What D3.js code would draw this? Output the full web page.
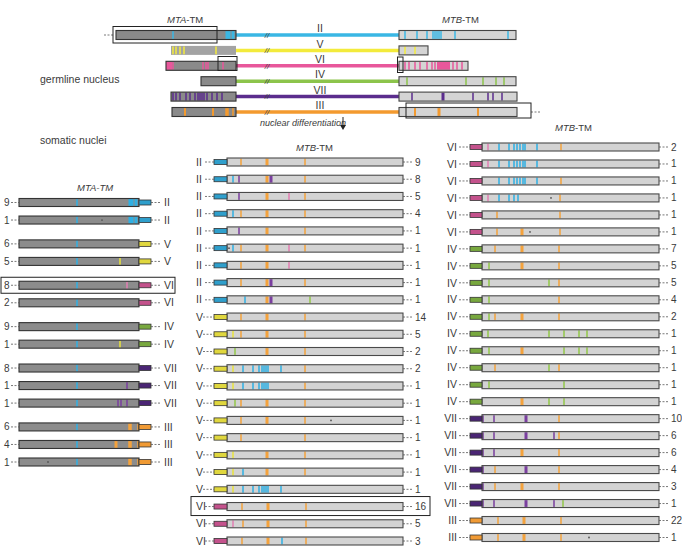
<!DOCTYPE html>
<html><head><meta charset="utf-8">
<script src="https://cdn.jsdelivr.net/npm/d3@7"></script>
<style>body{margin:0;background:#fff} text{font-family:"Liberation Sans",Arial,sans-serif;fill:#3a3a3a}</style>
</head><body><svg id="c" width="682" height="548"></svg>
<script>
// ---------------- DATA ----------------
const chromosomes = ["II","V","VI","IV","VII","III"];
// germline: MTA start (gene units, MTA ends at 120) and MTB end (MTB starts at 0)
const germMTAStart = [0,55,50,85,55,56];
const germMTBEnd   = [117,29,69,117,118,118];
const germMTAMarks = [
  "57 112:5 117:3",
  "57 60 64 68 100",
  "53:6 57 87 90 92 107",
  "",
  "57 60 64 70 74 79 82 84 86 88 91 96 101 106",
  "69:2 97:2 111:3.5 117"
];
const germMTBMarks = [
  "6 18 28 34 36 38 40 42 56 109",
  "6 16",
  "6 10 16 21 28 33 36 44.5:13 54 58 63",
  "8 67 84 97 105",
  "13 44:3 74 89 94 103",
  "16:2 40:3 79:2"
];

// somatic MTA-TM column
const leftLabels = ["II","II","V","V","VI","VI","IV","IV","VII","VII","VII","III","III","III"];
const leftCounts = [9,1,6,5,8,2,9,1,8,1,1,6,4,1];
const leftMarks = [
  "c58 c112:5 c117:3", "c58 c112:5 c117:3 *83",
  "c58", "c58 y101",
  "c58 p108", "c58",
  "c58", "c58 y101",
  "c58", "c58 u108", "c58 u99 u102 u108",
  "c58 o111:3.5 o119", "c58 o97:3 o111:3.5 o119", "c58 o111:3.5 o119 *29"
];

// somatic MTB-TM middle column
const midLabels = ["II","II","II","II","II","II","II","II","II",
  "V","V","V","V","V","V","V","V","V","V","V","VI","VI","VI"];
const midCounts = [9,8,5,4,1,1,1,1,1, 14,5,2,2,1,1,1,1,1,1,1, 16,5,3];
const midMarks = [
  "o14 o40:3 o78",
  "c6 u12 o40:3 u44:3 o78",
  "u12 o40:3 p62 o78",
  "c6 o14 o40:3 o78",
  "u12 o40:3 o78",
  "c6 o14 o40:3 p62 o78 *2",
  "o14 o40:3 p62",
  "o14 o40:3 u44:3 o78",
  "c18 o40:3 u44:3 g83",
  "o14 o40:3 o78",
  "y6 o14 o40:3 o78",
  "g8 o40:3 o78",
  "y6 c16 c26 c32 c35 c37 c39 c41 c54 o78",
  "y6 c16 c26 c32 c35 c37 c39 c41 o78",
  "g8 o14 o40:3 o78",
  "o14 o40:3 o78 *104",
  "o14 o78",
  "y6 o40:3 o78",
  "y6 c16 o40:3 o78",
  "y6 c16 c26 c32 c35 c37 c39 c41 c54",
  "o15 o41:3 o79",
  "p6 o16 o41:3 o79",
  "o15 o41:3 c55 o79"
];

// somatic MTB-TM right column
const rightLabels = ["VI","VI","VI","VI","VI","VI",
  "IV","IV","IV","IV","IV","IV","IV","IV","IV","IV",
  "VII","VII","VII","VII","VII","VII","III","III"];
const rightCounts = [2,1,1,1,1,1, 7,5,5,4,2,1,1,1,1,1, 10,6,6,4,3,1, 22,1];
const rightMarks = [
  "p6 c17 c27 c32 c35 c38 c41 c43 c55 o79",
  "p6 c17 c27 c32 c35 c38 c41 c43 c55",
  "c17 c27 c32 c35 c38 c41 c43 c55 o79",
  "p6 c17 c27 c32 c36 o78 *69",
  "o15 o78",
  "o15 o40:3 o78 *48",
  "o13 o40:3 o77",
  "g7 o40:3 o77",
  "g7 g67 o77",
  "g7 o77",
  "g7 o13 o40:3 o77",
  "g6 g67 g82 g97 g105",
  "g7 o40:3 g82 g97 g105",
  "o13 g67 o77",
  "g7 g82",
  "o40:3 g67 g82",
  "u1 u12 u44:3 o77",
  "u1 u12 u44:3 u72 o77",
  "u1 u12 o40:3 o77",
  "u1 o13 u44:3 o77",
  "u1 o13 o40:3 o77",
  "u1 u12 u44:3 u72 g81",
  "o16 o42:3 o79",
  "o16 o42:3 o79 *107"
];

// ---------------- STYLE ----------------
const markColor = {c:"#2fb0e4", y:"#e9e33c", p:"#e27fb2", g:"#92c84a", u:"#7a3f9f", o:"#f4a23c"};
const lineColor = {II:"#3ab7e4", V:"#f3eb3c", VI:"#e8579b", IV:"#8cc44b", VII:"#5b2d8d", III:"#f39a2f"};
const stubColor = {II:"#2f9fcc", V:"#e0d73e", VI:"#c4528c", IV:"#78a83e", VII:"#4a2574", III:"#f09a34"};

const svg = d3.select("#c");

function parse(s) {
  if (!s) return [];
  return s.trim().split(/\s+/).map(t => {
    if (t[0] === "*") return {dot: +t.slice(1)};
    const k = /[a-z]/.test(t[0]) ? t[0] : null;
    const body = k ? t.slice(1) : t;
    const [p, w] = body.split(":");
    return {c: k, pos: +p, w: w ? +w : 1.5};
  });
}
function dashes(g, x1, x2, y) {
  g.append("line").attr("x1", x1).attr("x2", x2).attr("y1", y).attr("y2", y)
    .attr("stroke", "#555").attr("stroke-width", 0.8).attr("stroke-dasharray", "2,1.5");
}
function box(x, y, w, h) {
  svg.append("rect").attr("x", x).attr("y", y).attr("width", w).attr("height", h)
    .attr("fill", "none").attr("stroke", "#222").attr("stroke-width", 1);
}
function titleText(x, y, gene, italicAll, size) {
  const t = svg.append("text").attr("x", x).attr("y", y).attr("font-size", size || 9.5);
  t.append("tspan").attr("font-style", "italic").text(gene);
  t.append("tspan").attr("font-style", italicAll ? "italic" : "normal").text("-TM");
}
function drawBar(g, x, cy, h, marks, fill, stroke, colorFn, barStroke) {
  const [x0, x1] = x.range();
  g.append("rect").attr("x", x0).attr("y", cy - h/2).attr("width", x1 - x0).attr("height", h).attr("fill", fill);
  parse(marks).forEach(m => {
    if (m.dot != null) {
      g.append("circle").attr("cx", x(m.dot)).attr("cy", cy).attr("r", 0.9).attr("fill", "#555");
    } else {
      g.append("rect").attr("x", x(m.pos) - m.w/2).attr("y", cy - h/2 + 0.6)
        .attr("width", m.w).attr("height", h - 1.2).attr("fill", colorFn(m));
    }
  });
  if (stroke) g.append("rect").attr("x", x0).attr("y", cy - h/2).attr("width", x1 - x0).attr("height", h)
    .attr("fill", "none").attr("stroke", stroke).attr("stroke-width", barStroke || 1.1);
}

// ---------------- GERMLINE ----------------
const gG = svg.append("g");
const yG = d3.scaleLinear().domain([0, 5]).range([35, 112]);
const xGA = d3.scaleLinear().domain([0, 120]).range([116, 236]);
const xGB = d3.scaleLinear().domain([0, 120]).range([399, 519]);
titleText(167, 23, "MTA", false, 9.5);
titleText(442, 23, "MTB", false, 9.5);

chromosomes.forEach((ch, i) => {
  const cy = yG(i);
  gG.append("line").attr("x1", xGA(120)).attr("x2", xGB(0)).attr("y1", cy).attr("y2", cy)
    .attr("stroke", lineColor[ch]).attr("stroke-width", 3.5);
  gG.append("text").attr("x", 267).attr("y", cy).attr("dy", "0.35em").attr("text-anchor", "middle")
    .attr("font-size", 8).attr("font-style", "italic").text("//");
  gG.append("text").attr("x", 320).attr("y", cy - 2.8).attr("text-anchor", "middle")
    .attr("font-size", 10.5).text(ch);
  const xa = d3.scaleLinear().domain([germMTAStart[i], 120]).range([xGA(germMTAStart[i]), xGA(120)]);
  drawBar(gG, xa, cy, 9, germMTAMarks[i], ch === "V" ? "#a3a3a3" : "#8a8a8a", ch === "V" ? null : "#333",
    () => lineColor[ch]);
  const xb = d3.scaleLinear().domain([0, germMTBEnd[i]]).range([xGB(0), xGB(germMTBEnd[i])]);
  drawBar(gG, xb, cy, 9, germMTBMarks[i], "#d4d4d4", "#444", () => lineColor[ch]);
});
dashes(gG, 104, 113, yG(0));
box(113, 26.5, 104, 16.5);
box(218, 56.5, 19, 14);
box(397.5, 57, 5.5, 15.5);
box(406, 103, 125, 15);
dashes(gG, 531, 540, yG(5));

svg.append("text").attr("x", 40).attr("y", 83).attr("font-size", 10.5).text("germline nucleus");
svg.append("text").attr("x", 40).attr("y", 144).attr("font-size", 10.5).text("somatic nuclei");
svg.append("text").attr("x", 260).attr("y", 126).attr("font-size", 9).attr("font-style", "italic").text("nuclear differentiation");
svg.append("line").attr("x1", 343).attr("x2", 343).attr("y1", 117).attr("y2", 128).attr("stroke", "#222").attr("stroke-width", 1);
svg.append("path").attr("d", "M340,125 L343,130 L346,125 Z").attr("fill", "#222");

// ---------------- LEFT COLUMN (MTA-TM) ----------------
const gL = svg.append("g");
const xL = d3.scaleLinear().domain([0, 120]).range([19, 139]);
const gap = 0.36;
const yL = d3.scaleLinear().domain([0, 13 + 5 * gap]).range([202.5, 462]);
titleText(77, 191, "MTA", true, 9.5);
let grp = 0;
leftLabels.forEach((lab, i) => {
  if (i > 0 && lab !== leftLabels[i - 1]) grp++;
  const cy = yL(i + grp * gap);
  drawBar(gL, xL, cy, 8, leftMarks[i], "#8c8c8c", "#333", m => markColor[m.c]);
  gL.append("rect").attr("x", 139).attr("y", cy - 2.5).attr("width", 12).attr("height", 5)
    .attr("fill", stubColor[lab]).attr("stroke", "#333").attr("stroke-width", 0.8);
  dashes(gL, 151, 161, cy);
  gL.append("text").attr("x", 164).attr("y", cy).attr("dy", "0.35em").attr("font-size", 10.5).text(lab);
  gL.append("text").attr("x", 4).attr("y", cy).attr("dy", "0.35em").attr("font-size", 10).text(leftCounts[i]);
  dashes(gL, 11, 19, cy);
  if (i === 4) box(1, cy - 8, 174, 16);
});

// ---------------- MIDDLE COLUMN (MTB-TM) ----------------
const gM = svg.append("g");
const xM = d3.scaleLinear().domain([0, 176]).range([227, 403]);
const yM = d3.scaleLinear().domain([0, 22]).range([162, 541]);
titleText(296, 151, "MTB", false, 9.5);
midLabels.forEach((lab, i) => {
  const cy = yM(i);
  drawBar(gM, xM, cy, 8, midMarks[i], "#d3d3d3", "#4a4a4a", m => markColor[m.c]);
  gM.append("rect").attr("x", 214).attr("y", cy - 2.5).attr("width", 13).attr("height", 5)
    .attr("fill", stubColor[lab]).attr("stroke", "#333").attr("stroke-width", 0.8);
  gM.append("text").attr("x", 196).attr("y", cy).attr("dy", "0.35em").attr("font-size", 10.5).text(lab);
  dashes(gM, lab.length > 1 ? 205 : 203, 214, cy);
  dashes(gM, 403, 413, cy);
  gM.append("text").attr("x", 415).attr("y", cy).attr("dy", "0.35em").attr("font-size", 10).text(midCounts[i]);
  if (i === 20) box(191, cy - 10, 239, 19);
});

// ---------------- RIGHT COLUMN (MTB-TM) ----------------
const gR = svg.append("g");
const xR = d3.scaleLinear().domain([0, 177]).range([482, 659]);
const yR = d3.scaleLinear().domain([0, 23]).range([147, 537.5]);
titleText(555, 131, "MTB", false, 9.5);
rightLabels.forEach((lab, i) => {
  const cy = yR(i);
  drawBar(gR, xR, cy, 8, rightMarks[i], "#d3d3d3", "#4a4a4a", m => markColor[m.c]);
  gR.append("rect").attr("x", 470).attr("y", cy - 2.5).attr("width", 12).attr("height", 5)
    .attr("fill", stubColor[lab]).attr("stroke", "#333").attr("stroke-width", 0.8);
  gR.append("text").attr("x", 457).attr("y", cy).attr("dy", "0.35em").attr("text-anchor", "end")
    .attr("font-size", 10.5).text(lab);
  dashes(gR, 459, 470, cy);
  dashes(gR, 659, 669, cy);
  gR.append("text").attr("x", 671).attr("y", cy).attr("dy", "0.35em").attr("font-size", 10).text(rightCounts[i]);
});
</script></body></html>
